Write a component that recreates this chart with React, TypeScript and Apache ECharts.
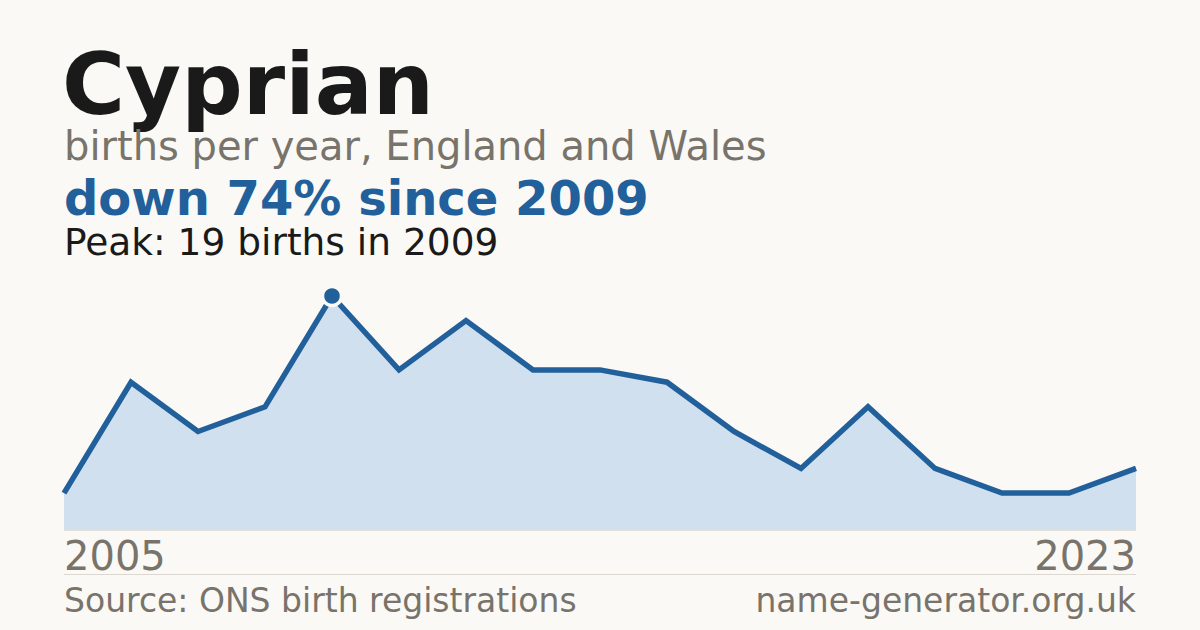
import React, { useEffect, useRef } from "react";
import * as echarts from "echarts";

const years = [
  "2005", "2006", "2007", "2008", "2009", "2010", "2011", "2012", "2013",
  "2014", "2015", "2016", "2018", "2019", "2021", "2022", "2023",
];
const births = [3, 12, 8, 10, 19, 13, 17, 13, 13, 12, 8, 5, 10, 5, 3, 3, 5];

const titleText = "Cyprian";
const subtitleText = "births per year, England and Wales";
const headlineText = "down 74% since 2009";
const peakText = "Peak: 19 births in 2009";
const sourceText = "Source: ONS birth registrations";
const siteText = "name-generator.org.uk";

const BG = "#faf9f5";
const BLUE = "#21609a";
const GREY = "#78736b";
const DARK = "#1a1a1a";
const FONT = "DejaVu Sans";

export default function App() {
  const ref = useRef<HTMLDivElement>(null);
  useEffect(() => {
    if (!ref.current) return;
    const chart = echarts.init(ref.current, undefined, { renderer: "svg" });
    let peakIndex = 0;
    births.forEach((v, i) => {
      if (v > births[peakIndex]) peakIndex = i;
    });
    const last = years.length - 1;
    chart.setOption({
      animation: false,
      backgroundColor: BG,
      textStyle: { fontFamily: FONT },
      grid: { left: 64, right: 64, top: 296, bottom: 100, containLabel: false },
      xAxis: {
        type: "category",
        data: years,
        boundaryGap: false,
        axisLine: { show: true, lineStyle: { color: "#e6e1d8", width: 1 } },
        axisTick: { show: false },
        splitLine: { show: false },
        axisLabel: {
          interval: (i: number) => i === 0 || i === last,
          alignMinLabel: "left",
          alignMaxLabel: "right",
          color: GREY,
          fontSize: 40,
          fontFamily: FONT,
          margin: 6,
        },
      },
      yAxis: {
        type: "value",
        min: 0,
        max: 19,
        show: false,
      },
      series: [
        {
          type: "line",
          data: births,
          symbol: "none",
          lineStyle: { color: BLUE, width: 5.5, join: "miter" },
          areaStyle: { color: "#d0e0ef", opacity: 1 },
          z: 2,
        },
        {
          type: "scatter",
          data: [[peakIndex, births[peakIndex]]],
          symbol: "circle",
          symbolSize: 19,
          itemStyle: { color: BLUE, borderColor: BG, borderWidth: 3.5, opacity: 1 },
          z: 3,
        },
      ],
      graphic: [
        {
          type: "text",
          x: 62,
          y: 84,
          style: {
            text: titleText,
            fill: DARK,
            font: `bold 86px ${FONT}`,
            verticalAlign: "middle",
            align: "left",
          },
        },
        {
          type: "text",
          x: 64,
          y: 146,
          style: {
            text: subtitleText,
            fill: GREY,
            font: `40px ${FONT}`,
            verticalAlign: "middle",
          },
        },
        {
          type: "text",
          x: 64,
          y: 198,
          style: {
            text: headlineText,
            fill: BLUE,
            font: `bold 48px ${FONT}`,
            verticalAlign: "middle",
          },
        },
        {
          type: "text",
          x: 64,
          y: 242,
          style: {
            text: peakText,
            fill: DARK,
            font: `37.5px ${FONT}`,
            verticalAlign: "middle",
          },
        },
        {
          type: "line",
          shape: { x1: 64, y1: 574.5, x2: 1136, y2: 574.5 },
          style: { stroke: "#dcd8d0", lineWidth: 1 },
        },
        {
          type: "text",
          x: 64,
          y: 600,
          style: {
            text: sourceText,
            fill: GREY,
            font: `33px ${FONT}`,
            verticalAlign: "middle",
          },
        },
        {
          type: "text",
          x: 1136,
          y: 600,
          style: {
            text: siteText,
            fill: GREY,
            font: `33px ${FONT}`,
            verticalAlign: "middle",
            align: "right",
          },
        },
      ],
    });
    return () => chart.dispose();
  }, []);
  return (
    <div
      ref={ref}
      style={{ position: "fixed", left: 0, top: 0, width: 1200, height: 630 }}
    />
  );
}
